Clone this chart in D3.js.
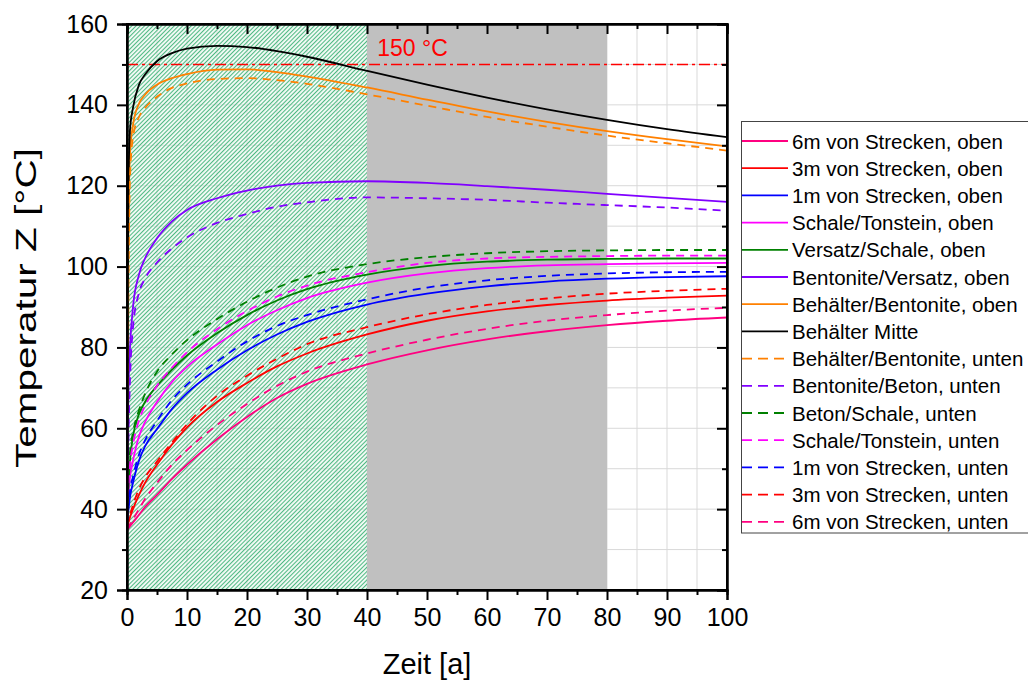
<!DOCTYPE html>
<html><head><meta charset="utf-8">
<script src="https://cdn.jsdelivr.net/npm/d3@7/dist/d3.min.js"></script>
<style>
html,body{margin:0;padding:0;background:#fff;}
svg{display:block;font-family:"Liberation Sans",Arial,sans-serif;}
</style></head>
<body>
<svg id="chart" width="1028" height="680"></svg>
<script>
// ---- data ----
const time = [0, 0.1, 0.25, 0.5, 1, 2, 3, 5, 7.5, 10, 15, 20, 25, 30, 40, 50, 60, 70, 80, 90, 100];

const strecke6Oben      = [34.8, 35, 35.3, 35.8, 36.7, 38.6, 40.5, 43.5, 47.5, 51, 57.3, 62.8, 67.5, 71.0, 75.8, 79.3, 82.0, 84.0, 85.5, 86.6, 87.4];
const strecke3Oben      = [35.5, 36, 36.8, 38, 40, 43.5, 46.5, 51, 56, 60.2, 66.5, 71.2, 75.3, 78.5, 83.2, 86.6, 88.9, 90.5, 91.6, 92.3, 92.8];
const strecke1Oben      = [36, 38, 40, 43, 46.5, 52, 55.5, 59.8, 64.8, 68.7, 74.5, 79.3, 83.2, 86.3, 90.6, 93.3, 95.1, 96.3, 97.0, 97.4, 97.6];
const schaleTonOben     = [36, 40, 44, 48, 52, 58, 61.5, 66.5, 71.5, 75.2, 80.7, 85.5, 89.2, 92.2, 96.0, 98.3, 99.6, 100.3, 100.6, 100.8, 100.9];
const versatzSchaleOben = [36, 41, 46, 52, 58, 63.5, 66.5, 70.5, 74.5, 78.0, 83.5, 88.0, 91.6, 94.4, 98.0, 100.1, 101.2, 101.7, 101.9, 102.0, 102.0];
const bentVersatzOben   = [37, 56, 70, 80, 90, 98, 102, 107, 111.2, 114.0, 116.9, 118.8, 120.0, 120.7, 121.1, 120.7, 119.9, 119.0, 118.0, 117.0, 116.0];
const behBentOben       = [36, 80, 110, 128, 135, 140.3, 142.5, 145, 146.6, 147.6, 148.7, 148.8, 148.1, 147.0, 144.3, 141.3, 138.4, 135.8, 133.5, 131.5, 129.7];
const behMitte          = [36, 90, 120, 133.8, 139.3, 145, 147.5, 150.8, 152.8, 153.9, 154.6, 154.3, 153.3, 151.9, 148.4, 145.0, 141.8, 138.9, 136.3, 134.0, 132.0];
const behBentUnten      = [36, 60, 95, 122, 132, 137, 139.2, 142, 144.2, 145.3, 146.4, 146.6, 146.1, 145.2, 142.6, 139.8, 137.0, 134.6, 132.4, 130.5, 128.7];
const bentBetonUnten    = [36, 46, 58, 72, 85, 93.5, 97, 101, 104.5, 107.2, 110.8, 113, 114.8, 115.9, 117.1, 116.9, 116.5, 115.8, 115.2, 114.6, 113.8];
const betonSchaleUnten  = [36, 42, 48, 54, 59, 64.5, 68.5, 74, 78.3, 81.8, 87.0, 91.3, 94.8, 97.5, 100.6, 102.3, 103.3, 103.8, 104.0, 104.1, 104.1];
const schaleTonUnten    = [36, 42, 46, 51, 56, 62, 65.5, 70.5, 75.0, 78.8, 84.5, 89.0, 92.6, 95.3, 98.6, 100.9, 102.0, 102.4, 102.6, 102.7, 102.7];
const strecke1Unten     = [36, 38.5, 41, 44.5, 48, 53.5, 57, 61.8, 67, 70.8, 76.5, 81.5, 85.3, 88.0, 91.9, 94.8, 96.6, 97.7, 98.3, 98.6, 98.7];
const strecke3Unten     = [35.5, 36, 37, 38.5, 41, 45, 47.8, 51.8, 56.5, 61, 68, 73, 77.2, 80.8, 85.0, 88.2, 90.5, 92.1, 93.3, 94.0, 94.5];
const strecke6Unten     = [35, 35.2, 35.6, 36.3, 37.5, 40, 42.5, 46.5, 51, 54.6, 60.8, 66.0, 70.5, 74.0, 78.5, 81.9, 84.6, 86.6, 88.0, 89.1, 89.8];

const seriesNames = [
  "6m von Strecken, oben","3m von Strecken, oben","1m von Strecken, oben","Schale/Tonstein, oben",
  "Versatz/Schale, oben","Bentonite/Versatz, oben","Behälter/Bentonite, oben","Behälter Mitte",
  "Behälter/Bentonite, unten","Bentonite/Beton, unten","Beton/Schale, unten","Schale/Tonstein, unten",
  "1m von Strecken, unten","3m von Strecken, unten","6m von Strecken, unten"];
const seriesValues = [strecke6Oben, strecke3Oben, strecke1Oben, schaleTonOben, versatzSchaleOben, bentVersatzOben,
  behBentOben, behMitte, behBentUnten, bentBetonUnten, betonSchaleUnten, schaleTonUnten, strecke1Unten, strecke3Unten, strecke6Unten];
const seriesColors = ["#ff0080","#ff0000","#0000ff","#ff00ff","#008000","#8000ff","#ff8000","#000000",
  "#ff8000","#8000ff","#008000","#ff00ff","#0000ff","#ff0000","#ff0080"];
const seriesDashed = [false,false,false,false,false,false,false,false,true,true,true,true,true,true,true];

const xTicks = [0,10,20,30,40,50,60,70,80,90,100];
const yTicks = [20,40,60,80,100,120,140,160];
const limitValue = 150;
const limitLabel = "150 °C";
const phases = [[0,40],[40,80]];
const xTitle = "Zeit [a]";
const yTitle = "Temperatur Z [°C]";

// ---- drawing ----
const svg = d3.select("#chart");
const L = 127, R = 727, T = 24, B = 590;
const x = d3.scaleLinear().domain([0,100]).range([L,R]);
const y = d3.scaleLinear().domain([20,160]).range([B,T]);

const defs = svg.append("defs");
const pat = defs.append("pattern").attr("id","hatch").attr("patternUnits","userSpaceOnUse")
  .attr("width",3).attr("height",3).attr("patternTransform","rotate(45)");
pat.append("rect").attr("width",1.1).attr("height",3).attr("fill","#4fb983");
pat.append("rect").attr("x",1.1).attr("width",1.9).attr("height",3).attr("fill","#e6f6ec").attr("fill-opacity",0.45);
defs.append("clipPath").attr("id","clip").append("rect").attr("x",L).attr("y",T).attr("width",R-L).attr("height",B-T);

// grid
const grid = svg.append("g").attr("stroke","#d9d9d9").attr("stroke-width",1);
d3.range(5,100,5).forEach(v=>grid.append("line").attr("x1",x(v)).attr("x2",x(v)).attr("y1",T).attr("y2",B));
d3.range(30,160,10).forEach(v=>grid.append("line").attr("y1",y(v)).attr("y2",y(v)).attr("x1",L).attr("x2",R));

// phases
svg.append("rect").attr("x",x(phases[0][0])).attr("y",T).attr("width",x(phases[0][1])-x(phases[0][0])).attr("height",B-T)
  .attr("fill","url(#hatch)");
svg.append("rect").attr("x",x(phases[1][0])).attr("y",T).attr("width",x(phases[1][1])-x(phases[1][0])).attr("height",B-T)
  .attr("fill","#c0c0c0");

// limit line
svg.append("line").attr("x1",L).attr("x2",R).attr("y1",y(limitValue)).attr("y2",y(limitValue))
  .attr("stroke","#ff0000").attr("stroke-width",1.6).attr("stroke-dasharray","11,4,3,4");
svg.append("text").attr("x",x(41.7)).attr("y",y(limitValue)-8).attr("fill","#ff0000")
  .attr("font-size",23).text(limitLabel);

// curves
const line = d3.line().x((d,i)=>x(time[i])).y(d=>y(d)).curve(d3.curveMonotoneX);
const gLines = svg.append("g").attr("clip-path","url(#clip)");
seriesValues.forEach((vals,i)=>{
  gLines.append("path").attr("d",line(vals)).attr("fill","none")
    .attr("stroke",seriesColors[i]).attr("stroke-width",1.8)
    .attr("stroke-dasharray",seriesDashed[i]?"8,6":null);
});

// frame
svg.append("rect").attr("x",L).attr("y",T).attr("width",R-L).attr("height",B-T)
  .attr("fill","none").attr("stroke","#000").attr("stroke-width",2);

// axes
const fs = 25;
svg.append("g").attr("transform",`translate(0,${B})`)
  .call(d3.axisBottom(x).tickValues(xTicks).tickSize(10).tickPadding(8).tickFormat(d3.format("d")));
svg.append("g").attr("transform",`translate(0,${B})`)
  .call(d3.axisBottom(x).tickValues(d3.range(5,100,10)).tickSize(5).tickFormat(""));
svg.append("g").attr("transform",`translate(${L},0)`)
  .call(d3.axisLeft(y).tickValues(yTicks).tickSize(10).tickPadding(9).tickFormat(d3.format("d")));
svg.append("g").attr("transform",`translate(${L},0)`)
  .call(d3.axisLeft(y).tickValues(d3.range(30,160,20)).tickSize(5).tickFormat(""));
svg.append("g").attr("transform",`translate(0,${T})`)
  .call(d3.axisBottom(x).tickValues(xTicks).tickSize(10).tickFormat(""));
svg.append("g").attr("transform",`translate(0,${T})`)
  .call(d3.axisBottom(x).tickValues(d3.range(5,100,10)).tickSize(5).tickFormat(""));
svg.append("g").attr("transform",`translate(${R},0)`)
  .call(d3.axisLeft(y).tickValues(yTicks).tickSize(10).tickFormat(""));
svg.append("g").attr("transform",`translate(${R},0)`)
  .call(d3.axisLeft(y).tickValues(d3.range(30,160,20)).tickSize(5).tickFormat(""));
svg.selectAll(".domain").attr("stroke","#000").attr("stroke-width",2);
svg.selectAll(".tick line").attr("stroke","#000").attr("stroke-width",2);
svg.selectAll(".tick text").attr("font-size",fs).attr("font-family","'Liberation Sans',Arial,sans-serif").attr("fill","#000");

// titles
svg.append("text").attr("x",427).attr("y",674).attr("text-anchor","middle")
  .attr("font-size",29).text(xTitle);
svg.append("text").attr("transform",`translate(36,308) rotate(-90)`).attr("text-anchor","middle")
  .attr("font-size",29).attr("textLength",320).attr("lengthAdjust","spacingAndGlyphs").text(yTitle);

// legend
const lg = svg.append("g");
lg.append("rect").attr("x",741.5).attr("y",121.5).attr("width",300).attr("height",411.5)
  .attr("fill","#fff").attr("stroke","#444").attr("stroke-width",1);
seriesNames.forEach((n,i)=>{
  const cy = 141 + i*27.2;
  lg.append("line").attr("x1",742).attr("x2",788).attr("y1",cy).attr("y2",cy)
    .attr("stroke",seriesColors[i]).attr("stroke-width",1.8)
    .attr("stroke-dasharray",seriesDashed[i]?"10,6":null);
  lg.append("text").attr("x",792).attr("y",cy+7.5).attr("font-size",20.5).text(n);
});
</script>
</body></html>
